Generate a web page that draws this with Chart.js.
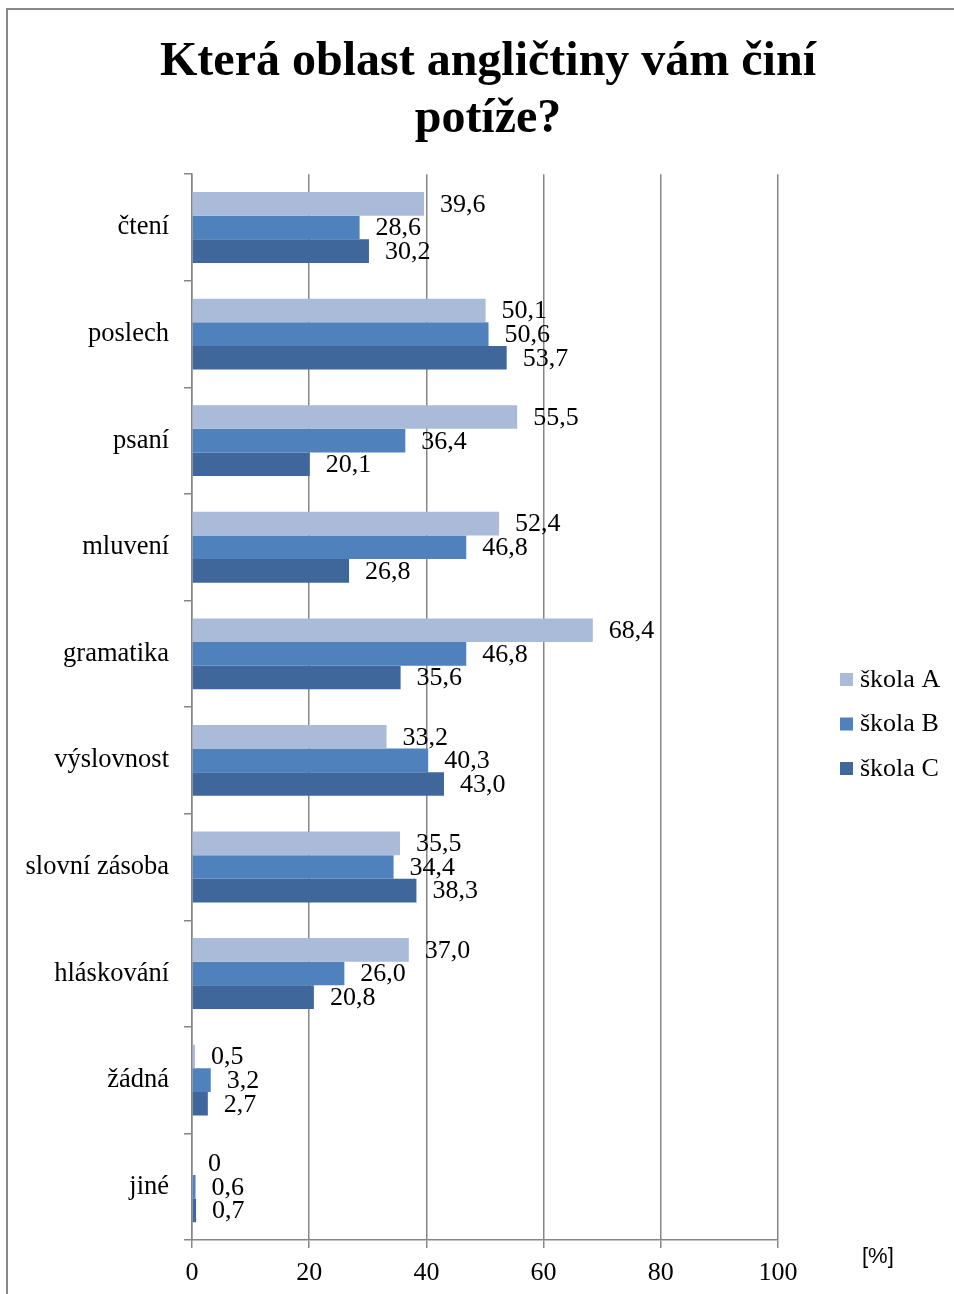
<!DOCTYPE html>
<html>
<head>
<meta charset="utf-8">
<script src="https://cdn.jsdelivr.net/npm/chart.js@4/dist/chart.umd.min.js"></script>
<style>
    html, body { margin: 0; padding: 0; background: #ffffff; overflow: hidden; }
    .frame {
        position: absolute;
        left: 6px;
        top: 8px;
        width: 960px;
        height: 1300px;
        border: 2px solid #888888;
        background: #ffffff;
    }
    canvas { display: block; }
</style>
</head>
<body>
<div class="frame">
    <canvas id="chart" width="960" height="1290"></canvas>
</div>
<script>
const categories = ["čtení", "poslech", "psaní", "mluvení", "gramatika", "výslovnost", "slovní zásoba", "hláskování", "žádná", "jiné"];
const seriesNames = ["škola A", "škola B", "škola C"];
const skolaA = [39.6, 50.1, 55.5, 52.4, 68.4, 33.2, 35.5, 37.0, 0.5, 0];
const skolaB = [28.6, 50.6, 36.4, 46.8, 46.8, 40.3, 34.4, 26.0, 3.2, 0.6];
const skolaC = [30.2, 53.7, 20.1, 26.8, 35.6, 43.0, 38.3, 20.8, 2.7, 0.7];
const xTicks = [0, 20, 40, 60, 80, 100];
const titleLines = ["Která oblast angličtiny vám činí", "potíže?"];
const unitLabel = "[%]";

const colors = ["#aabad9", "#4f81bd", "#3f679b"];
const serif = "'Liberation Serif', 'Times New Roman', serif";
const gridColor = "#868686";

function formatValue(value) {
    if (value === 0) {
        return "0";
    }
    return value.toFixed(1).replace(".", ",");
}

const labelsPlugin = {
    id: "valueLabels",
    afterDatasetsDraw(chart) {
        const ctx = chart.ctx;
        ctx.save();
        ctx.font = "26px " + serif;
        ctx.fillStyle = "#000000";
        ctx.textAlign = "left";
        ctx.textBaseline = "middle";
        chart.data.datasets.forEach((dataset, i) => {
            const meta = chart.getDatasetMeta(i);
            meta.data.forEach((bar, j) => {
                ctx.fillText(formatValue(dataset.data[j]), bar.x + 16, bar.y + 1);
            });
        });

        // legend on the right
        const legendTop = 670;
        chart.data.datasets.forEach((dataset, i) => {
            const cy = legendTop + i * 44.5;
            ctx.fillStyle = dataset.backgroundColor;
            ctx.fillRect(832, cy - 7, 13, 13);
            ctx.fillStyle = "#000000";
            ctx.fillText(dataset.label, 852, cy);
        });

        // unit label
        ctx.font = "22px 'Liberation Sans', Arial, sans-serif";
        ctx.fillText(unitLabel, 854, 1247);
        ctx.restore();
    }
};

new Chart(document.getElementById("chart"), {
    type: "bar",
    data: {
        labels: categories,
        datasets: [
            { label: seriesNames[0], data: skolaA, backgroundColor: colors[0] },
            { label: seriesNames[1], data: skolaB, backgroundColor: colors[1] },
            { label: seriesNames[2], data: skolaC, backgroundColor: colors[2] }
        ]
    },
    options: {
        indexAxis: "y",
        responsive: false,
        animation: false,
        layout: { padding: 0 },
        datasets: {
            bar: {
                categoryPercentage: 0.665,
                barPercentage: 1,
                borderWidth: 0
            }
        },
        plugins: {
            legend: { display: false },
            tooltip: { enabled: false },
            title: {
                display: true,
                text: titleLines,
                color: "#000000",
                font: { family: serif, size: 48, weight: "bold", lineHeight: 1.19 },
                padding: { top: 24, bottom: 26 }
            }
        },
        scales: {
            x: {
                min: 0,
                max: 100,
                afterBuildTicks: scale => {
                    scale.ticks = xTicks.map(v => ({ value: v }));
                },
                afterFit: scale => {
                    scale.height = 60;
                },
                grid: {
                    color: gridColor,
                    lineWidth: 1.5,
                    tickLength: 8
                },
                border: { color: gridColor, width: 1.5 },
                ticks: {
                    color: "#000000",
                    padding: 10,
                    font: { family: serif, size: 26 }
                }
            },
            y: {
                afterFit: scale => {
                    scale.width = 184;
                },
                grid: {
                    drawOnChartArea: false,
                    offset: true,
                    color: gridColor,
                    lineWidth: 1.5,
                    tickLength: 8
                },
                border: { color: gridColor, width: 1.5 },
                ticks: {
                    color: "#000000",
                    padding: 15,
                    font: { family: serif, size: 26.5 }
                }
            },
            spacer: {
                type: "linear",
                axis: "y",
                position: "right",
                grid: { display: false },
                border: { display: false },
                ticks: { display: false },
                afterFit: scale => {
                    scale.width = 190;
                }
            }
        }
    },
    plugins: [labelsPlugin]
});
</script>
</body>
</html>
